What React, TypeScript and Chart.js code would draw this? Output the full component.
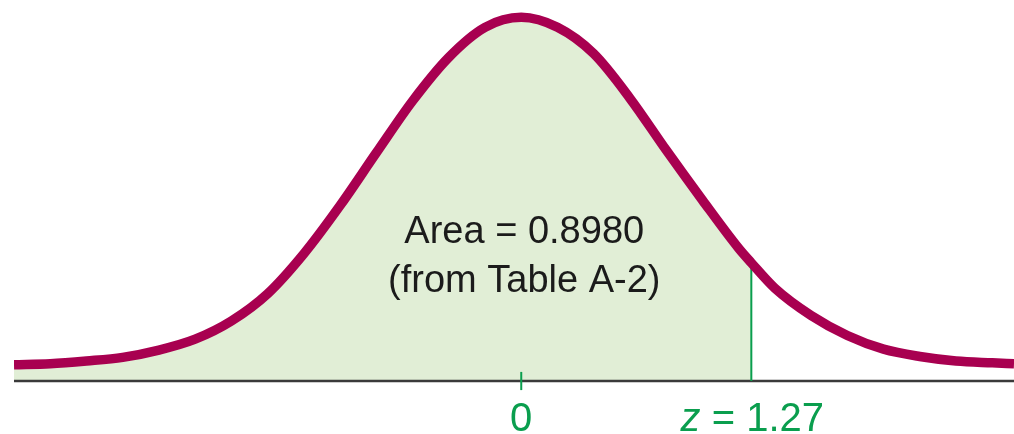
import React, { useEffect, useRef } from "react";
import { Chart, registerables } from "chart.js";

Chart.register(...registerables);

// z positions along the horizontal axis
const Z_VALUES = [
  -2.8, -2.6, -2.4, -2.2, -2.0, -1.8, -1.6, -1.4, -1.2, -1.0, -0.8, -0.6, -0.4, -0.2, 0,
  0.2, 0.4, 0.6, 0.8, 1.0, 1.2, 1.27, 1.4, 1.6, 1.8, 2.0, 2.2, 2.4, 2.6, 2.72,
];
// curve heights
const CURVE_HEIGHTS = [
  0.018, 0.019, 0.022, 0.026, 0.034, 0.046, 0.066, 0.096, 0.14, 0.193, 0.251, 0.308, 0.356, 0.389, 0.4,
  0.389, 0.36, 0.311, 0.254, 0.199, 0.146, 0.13, 0.102, 0.072, 0.05, 0.035, 0.027, 0.022, 0.02, 0.019,
];
const Z_CRITICAL = 1.27;
const CENTER_TICK = 0;
const AREA_TEXT = ["Area = 0.8980", "(from Table A-2)"];
const CENTER_LABEL = "0";
const CRIT_LABEL_VAR = "z";
const CRIT_LABEL_REST = " = 1.27";

const X_MIN = -2.8;
const X_MAX = 2.72;
const Y_MIN = -0.0583;
const Y_MAX = 0.4191;

const CURVE_COLOR = "#a80050";
const FILL_COLOR = "#e1eed6";
const GREEN = "#0a9e4e";
const AXIS_COLOR = "#3a3a3a";
const FONT = "'Liberation Sans', Arial, Helvetica, sans-serif";

export default function App() {
  const canvasRef = useRef<HTMLCanvasElement | null>(null);

  useEffect(() => {
    const canvas = canvasRef.current;
    if (!canvas) return;

    const curve = Z_VALUES.map((z, i) => ({ x: z, y: CURVE_HEIGHTS[i] }));
    const shaded = curve.filter((p) => p.x <= Z_CRITICAL);
    const critIdx = Z_VALUES.indexOf(Z_CRITICAL);
    const critHeight = CURVE_HEIGHTS[critIdx];

    const textPlugin = {
      id: "labels",
      afterDatasetsDraw(chart: any) {
        const { ctx, scales } = chart;
        const xs = scales.x;
        const ys = scales.y;
        const y0 = ys.getPixelForValue(0);
        ctx.save();
        // area text
        ctx.fillStyle = "#1b1b1b";
        ctx.font = `38px ${FONT}`;
        ctx.textAlign = "center";
        ctx.textBaseline = "alphabetic";
        const cx = xs.getPixelForValue(CENTER_TICK) + 3;
        ctx.fillText(AREA_TEXT[0], cx, y0 - 138);
        ctx.fillText(AREA_TEXT[1], cx, y0 - 89);
        // axis labels
        ctx.fillStyle = GREEN;
        ctx.font = `40px ${FONT}`;
        ctx.fillText(CENTER_LABEL, xs.getPixelForValue(CENTER_TICK), y0 + 50);
        const critX = xs.getPixelForValue(Z_CRITICAL);
        ctx.font = `italic 40px ${FONT}`;
        const w1 = ctx.measureText(CRIT_LABEL_VAR).width;
        ctx.font = `40px ${FONT}`;
        const w2 = ctx.measureText(CRIT_LABEL_REST).width;
        const start = critX - (w1 + w2) / 2 + 1;
        ctx.textAlign = "left";
        ctx.font = `italic 40px ${FONT}`;
        ctx.fillText(CRIT_LABEL_VAR, start, y0 + 50);
        ctx.font = `40px ${FONT}`;
        ctx.fillText(CRIT_LABEL_REST, start + w1, y0 + 50);
        ctx.restore();
      },
    };

    const chart = new Chart(canvas, {
      type: "line",
      data: {
        datasets: [
          {
            data: shaded,
            fill: "origin",
            backgroundColor: FILL_COLOR,
            borderWidth: 0,
            pointRadius: 0,
            cubicInterpolationMode: "monotone",
            order: 5,
          } as any,
          {
            data: [
              { x: X_MIN, y: 0 },
              { x: X_MAX, y: 0 },
            ],
            borderColor: AXIS_COLOR,
            borderWidth: 2.5,
            pointRadius: 0,
            fill: false,
            order: 4,
          },
          {
            data: [
              { x: Z_CRITICAL, y: 0 },
              { x: Z_CRITICAL, y: critHeight },
            ],
            borderColor: GREEN,
            borderWidth: 2,
            pointRadius: 0,
            fill: false,
            order: 3,
          },
          {
            data: [
              { x: CENTER_TICK, y: -0.01 },
              { x: CENTER_TICK, y: 0.01 },
            ],
            borderColor: GREEN,
            borderWidth: 2,
            pointRadius: 0,
            fill: false,
            order: 2,
          },
          {
            data: curve,
            borderColor: CURVE_COLOR,
            borderWidth: 9.5,
            pointRadius: 0,
            fill: false,
            cubicInterpolationMode: "monotone",
            clip: { left: 0, right: 0, top: 20, bottom: 20 },
            order: 1,
          } as any,
        ],
      },
      options: {
        responsive: false,
        animation: false,
        layout: { padding: { left: 14, right: 0, top: 0, bottom: 0 } },
        plugins: { legend: { display: false }, tooltip: { enabled: false } },
        scales: {
          x: { type: "linear", min: X_MIN, max: X_MAX, display: false },
          y: { type: "linear", min: Y_MIN, max: Y_MAX, display: false },
        },
      },
      plugins: [textPlugin],
    });

    return () => chart.destroy();
  }, []);

  return (
    <div style={{ position: "fixed", left: 0, top: 0, width: 1014, height: 434, background: "#fff" }}>
      <canvas ref={canvasRef} width={1014} height={434} style={{ display: "block" }} />
    </div>
  );
}
